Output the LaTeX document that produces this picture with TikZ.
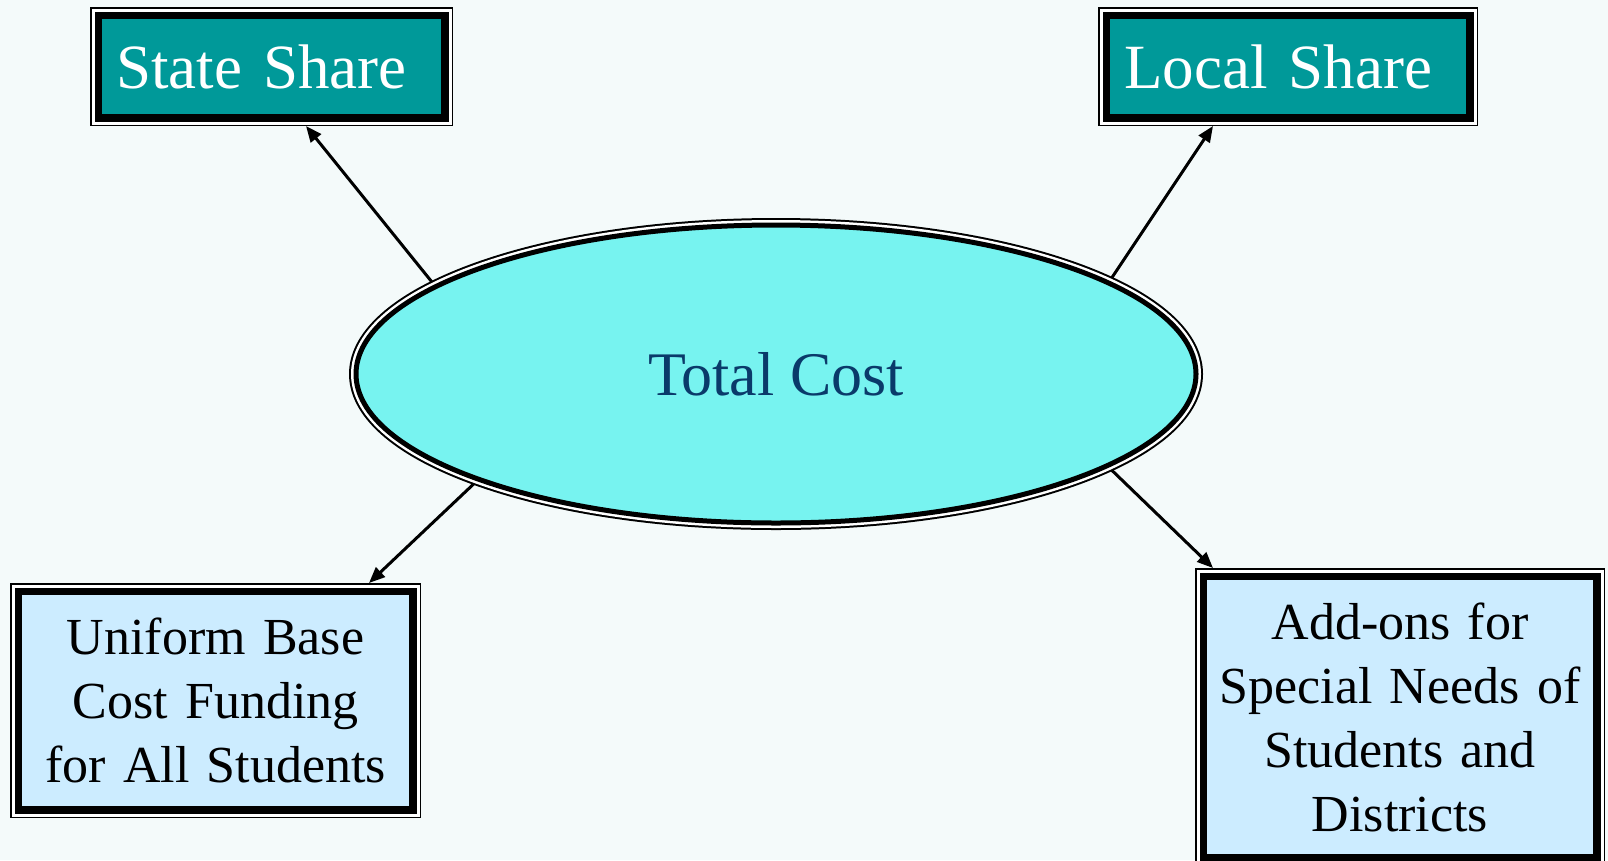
\documentclass[tikz,border=0pt]{standalone}
\usepackage{fontspec}
\setmainfont{Liberation Serif}
\usetikzlibrary{arrows.meta,shapes.geometric}
\definecolor{bg}{HTML}{F4FAFA}
\definecolor{teal}{HTML}{009999}
\definecolor{cyanfill}{HTML}{77F3F0}
\definecolor{lightblue}{HTML}{CCECFF}
\definecolor{navy}{HTML}{0A3A6A}
\begin{document}
\begin{tikzpicture}[x=1pt,y=-1pt,
  dbox/.style={rectangle, fill=#1, draw=black, line width=7.5pt,
    preaction={draw=black,line width=16.5pt},
    preaction={draw=white,line width=13.5pt},
    inner sep=0pt, outer sep=8.25pt},
  topbox/.style={dbox=teal, text=white, font=\fontsize{63}{70}\selectfont,
    align=left, inner xsep=18pt, minimum height=102.5pt},
  lowbox/.style={dbox=lightblue, text=black, font=\fontsize{52}{64}\selectfont,
    align=center, text width=370pt},
  oval/.style={ellipse, fill=cyanfill, draw=black, line width=5pt,
    preaction={draw=black,line width=14pt},
    preaction={draw=white,line width=10pt},
    inner sep=0pt, outer sep=7pt, minimum width=840pt, minimum height=298pt,
    text=navy, font=\fontsize{62}{70}\selectfont},
  arr/.style={-{Triangle[length=16pt,width=13pt]}, line width=3pt, black}]
\clip (0,0) rectangle (1608,860);
\fill[bg] (0,0) rectangle (1608,860);

\node[oval] (tc) at (776,374) {Total Cost};

\node[topbox, text width=310.5pt] (ss) at (271.5,66.5) {State Share};
\node[topbox, text width=327.5pt] (ls) at (1288,66.5) {Local Share};

\node[lowbox, minimum width=394.5pt, minimum height=218.5pt] (ub) at (215.5,700.5)
  {Uniform Base\\Cost Funding\\for All Students};
\node[lowbox, minimum width=393.5pt, minimum height=281.5pt] (ao) at (1400,717)
  {Add-ons for\\Special Needs of\\Students and\\Districts};

\draw[arr] (tc.165) -- ([xshift=34.5pt]ss.south);
\draw[arr] (tc.16.6) -- ([xshift=-75pt]ls.south);
\draw[arr] (tc.-160) -- ([xshift=153.5pt]ub.north);
\draw[arr] (tc.-16.7) -- ([xshift=-187pt]ao.north);
\end{tikzpicture}
\end{document}
